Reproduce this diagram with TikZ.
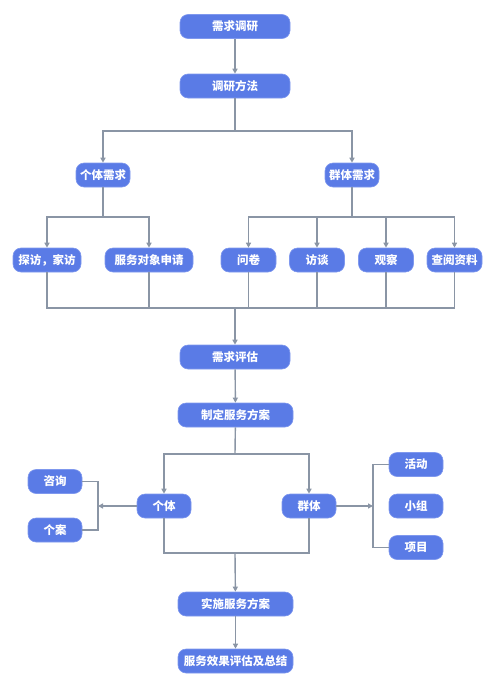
\documentclass[tikz,border=0pt]{standalone}
\usepackage{fontspec}
\newfontfamily\cjk{Noto Sans CJK SC}
\usetikzlibrary{arrows.meta}
\definecolor{boxblue}{HTML}{5A7BE6}
\definecolor{boxedge}{HTML}{7F98EE}
\definecolor{linegray}{HTML}{8A95A5}
\tikzset{
  box/.style={fill=boxblue, draw=boxedge, line width=0.6pt, rounded corners=8pt,
    text=white, font=\cjk\bfseries\fontsize{11.5}{13}\selectfont,
    minimum height=24pt, inner sep=0pt, anchor=center},
  conn/.style={draw=linegray, line width=1.4pt},
  arr/.style={conn, -{Triangle[width=5pt,length=5pt]}},
}
\begin{document}
\begin{tikzpicture}[x=1pt,y=-1pt]
\useasboundingbox (0,0) rectangle (489,683);
% top
\node[box, minimum width=110pt] (dy) at (235,26.5) {需求调研};
\node[box, minimum width=110pt] (ff) at (235,86) {调研方法};
\node[box, minimum width=54pt] (gx) at (103,175) {个体需求};
\node[box, minimum width=54pt] (qx) at (352,175) {群体需求};
\node[box, minimum width=68pt] (tf) at (47,260) {探访，家访};
\node[box, minimum width=88pt] (sq) at (149,260) {服务对象申请};
\node[box, minimum width=55pt] (wj) at (248.5,260) {问卷};
\node[box, minimum width=55pt] (ft) at (317,260) {访谈};
\node[box, minimum width=55pt] (gc) at (386,260) {观察};
\node[box, minimum width=55pt] (cy) at (454.5,260) {查阅资料};
\node[box, minimum width=110pt] (pg) at (235,357) {需求评估};
\node[box, minimum width=115pt] (zd) at (235.5,415) {制定服务方案};
\node[box, minimum width=54pt] (gt) at (164,506) {个体};
\node[box, minimum width=54pt] (qt) at (309,506) {群体};
\node[box, minimum width=54pt] (zx) at (55,481.5) {咨询};
\node[box, minimum width=54pt] (ga) at (55,530) {个案};
\node[box, minimum width=54pt] (hd) at (416,464.5) {活动};
\node[box, minimum width=54pt] (xz) at (416,506) {小组};
\node[box, minimum width=54pt] (xm) at (416,547.5) {项目};
\node[box, minimum width=115pt] (ss) at (235.5,604) {实施服务方案};
\node[box, minimum width=115pt] (zj) at (235.5,661) {服务效果评估及总结};
% junctions
\coordinate (j1) at (235,131);
\coordinate (j2) at (103,217);
\coordinate (j3) at (352,217);
\coordinate (j4) at (235,308);
\coordinate (j5) at (235,454);
\coordinate (b1) at (98,506);
\coordinate (b2) at (373,506);
\coordinate (j6) at (235,553);
% connectors
\draw[arr] (dy) -- (ff);
\draw[conn] (ff) -- (j1);
\draw[arr] (j1) -| (gx);
\draw[arr] (j1) -| (qx);
\draw[conn] (gx) -- (j2);
\draw[arr] (j2) -| (tf);
\draw[arr] (j2) -| (sq);
\draw[conn] (qx) -- (j3);
\draw[arr] (j3) -| (wj);
\draw[arr] (j3) -| (ft);
\draw[arr] (j3) -| (gc);
\draw[arr] (j3) -| (cy);
\draw[conn] (tf) |- (j4);
\draw[conn] (sq) |- (j4);
\draw[conn] (wj) |- (j4);
\draw[conn] (ft) |- (j4);
\draw[conn] (gc) |- (j4);
\draw[conn] (cy) |- (j4);
\draw[arr] (j4) -- (pg);
\draw[arr] (pg) -- (zd);
\draw[conn] (zd) -- (j5);
\draw[arr] (j5) -| (gt);
\draw[arr] (j5) -| (qt);
\draw[conn] (zx) -| (b1) |- (ga);
\draw[arr] (gt) -- (b1);
\draw[conn] (hd) -| (b2) |- (xm);
\draw[arr] (qt) -- (b2);
\draw[conn] (gt) |- (j6);
\draw[conn] (qt) |- (j6);
\draw[arr] (j6) -- (ss);
\draw[arr] (ss) -- (zj);
\end{tikzpicture}
\end{document}
